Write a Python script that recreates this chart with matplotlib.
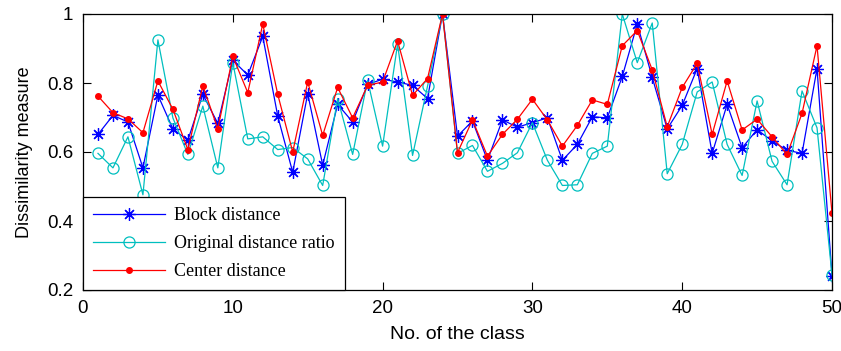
import numpy as np
import matplotlib
matplotlib.use("Agg")
import matplotlib.pyplot as plt

# class index 1..50
classes = np.arange(1, 51)

block_dist = [0.651, 0.706, 0.687, 0.554, 0.765, 0.667, 0.634, 0.767, 0.683, 0.866,
              0.823, 0.935, 0.704, 0.541, 0.769, 0.562, 0.738, 0.687, 0.796, 0.811,
              0.803, 0.793, 0.755, 1.000, 0.646, 0.690, 0.576, 0.693, 0.672, 0.685,
              0.699, 0.576, 0.622, 0.702, 0.699, 0.819, 0.971, 0.816, 0.667, 0.735,
              0.842, 0.596, 0.738, 0.612, 0.665, 0.632, 0.605, 0.596, 0.842, 0.241]

orig_ratio = [0.596, 0.554, 0.644, 0.476, 0.925, 0.699, 0.593, 0.733, 0.554, 0.859,
              0.638, 0.644, 0.607, 0.613, 0.580, 0.503, 0.755, 0.593, 0.808, 0.617,
              0.913, 0.590, 0.791, 1.000, 0.596, 0.619, 0.544, 0.567, 0.598, 0.685,
              0.576, 0.503, 0.505, 0.596, 0.617, 1.000, 0.859, 0.974, 0.537, 0.622,
              0.774, 0.803, 0.622, 0.532, 0.748, 0.573, 0.505, 0.777, 0.670, 0.244]

center_dist = [0.762, 0.714, 0.696, 0.656, 0.806, 0.724, 0.607, 0.792, 0.667, 0.877,
               0.772, 0.971, 0.767, 0.600, 0.803, 0.648, 0.787, 0.699, 0.793, 0.803,
               0.922, 0.764, 0.813, 1.000, 0.598, 0.693, 0.588, 0.651, 0.695, 0.753,
               0.693, 0.617, 0.677, 0.751, 0.738, 0.908, 0.952, 0.838, 0.673, 0.787,
               0.857, 0.651, 0.806, 0.664, 0.695, 0.644, 0.593, 0.712, 0.908, 0.423]

xticks = [0, 10, 20, 30, 40, 50]
yticks = [0.2, 0.4, 0.6, 0.8, 1.0]
ytick_labels = ["0.2", "0.4", "0.6", "0.8", "1"]

plt.rcParams["font.family"] = ["Liberation Sans", "DejaVu Sans"]

fig = plt.figure(figsize=(8.41, 3.51), dpi=100)
ax = fig.add_axes([83 / 841, 61 / 351, 749 / 841, 276 / 351])

ax.plot(classes, block_dist, color="#0000ff", lw=0.9, marker=(8, 2, 0),
        ms=9, mew=0.9, label="Block distance")
ax.plot(classes, orig_ratio, color="#00bfbf", lw=0.9, marker="o", ms=8,
        mfc="none", mew=0.9, label="Original distance ratio")
ax.plot(classes, center_dist, color="#ff0000", lw=0.9, marker=".", ms=8,
        label="Center distance")

ax.set_xlim(0, 50)
ax.set_ylim(0.2, 1.0)
ax.set_xticks(xticks)
ax.set_yticks(yticks)
ax.set_yticklabels(ytick_labels)
ax.tick_params(direction="in", length=6, width=0.8, top=True, right=True,
               labelsize=13.5, pad=7)
for sp in ax.spines.values():
    sp.set_linewidth(0.9)

ax.set_xlabel("No. of the class", fontsize=14, labelpad=7)
ax.set_ylabel("Dissimilarity measure", fontsize=13, labelpad=10)

leg = ax.legend(loc="lower left", bbox_to_anchor=(0, 0), borderaxespad=0,
                prop={"family": "Liberation Serif", "size": 13},
                fancybox=False, edgecolor="black", framealpha=1,
                handlelength=4, handletextpad=0.5, labelspacing=0.6,
                borderpad=0.55)
leg.get_frame().set_linewidth(0.9)

fig.savefig("out.png", dpi=100)
